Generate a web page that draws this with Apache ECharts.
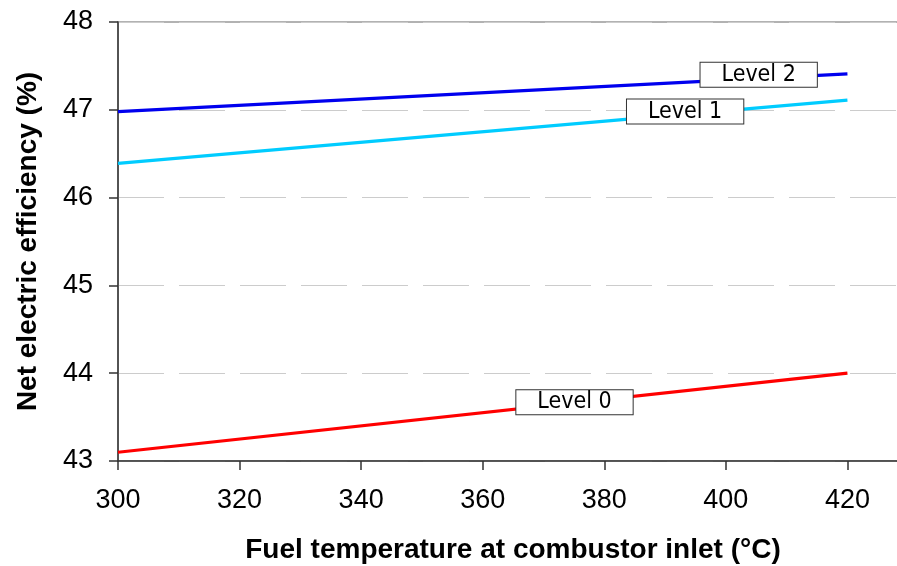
<!DOCTYPE html>
<html>
<head>
<meta charset="utf-8">
<script src="https://cdn.jsdelivr.net/npm/echarts@6/dist/echarts.min.js"></script>
<style>
  html, body { margin: 0; padding: 0; background: #fff; }
  #chart { width: 897px; height: 566px; }
</style>
</head>
<body>
<div id="chart"></div>
<script>
// fuel temperature (°C) at the two ends of each line
var temps = [300, 420];
var level0 = [43.10, 44.00];
var level1 = [46.39, 47.11];
var level2 = [46.98, 47.41];

var seriesNames = ['Level 0', 'Level 1', 'Level 2'];
var seriesColors = ['#ff0000', '#00ccff', '#0000ee'];

// where the boxed labels sit (data coords)
var labelX = [375.1, 393.3, 405.4];
var labelY = [43.67, 46.98, 47.40];

var chart = echarts.init(document.getElementById('chart'), null, { renderer: 'canvas' });

function pairs(ys) {
	var out = [];
	for (var i = 0; i < temps.length; i++) {
		out.push([temps[i], ys[i]]);
	}
	return out;
}

var allY = [level0, level1, level2];
var series = [];
for (var i = 0; i < seriesNames.length; i++) {
	series.push({
		name: seriesNames[i],
		type: 'line',
		data: pairs(allY[i]),
		symbol: 'none',
		lineStyle: { color: seriesColors[i], width: 3.2 },
		itemStyle: { color: seriesColors[i] },
		markPoint: {
			symbol: 'rect',
			symbolSize: 0,
			label: {
				show: true,
				position: 'inside',
				formatter: seriesNames[i],
				color: '#000',
				fontFamily: '"DejaVu Sans Condensed", "DejaVu Sans", sans-serif',
				fontSize: 23,
				lineHeight: 22,
				backgroundColor: '#fff',
				borderColor: '#333',
				borderWidth: 1,
				padding: [1, 21, 1, 21]
			},
			data: [{ coord: [labelX[i], labelY[i]] }]
		}
	});
}

var option = {
	animation: false,
	backgroundColor: '#fff',
	grid: {
		left: 118,
		top: 22,
		bottom: 105,
		right: -72,
		outerBoundsMode: 'none',
		containLabel: false,
		show: true,
		backgroundColor: '#fff',
		borderColor: '#999',
		borderWidth: 1.5
	},
	xAxis: {
		type: 'value',
		min: 300,
		max: 440,
		interval: 20,
		name: 'Fuel temperature at combustor inlet (°C)',
		nameLocation: 'middle',
		nameGap: 75,
		nameTextStyle: {
			fontFamily: '"Liberation Sans", Arial, sans-serif',
			fontWeight: 'bold',
			fontSize: 28,
			color: '#000',
			padding: [0, 61, 0, 0]
		},
		axisLine: { lineStyle: { color: '#333', width: 1.5 } },
		axisTick: { show: true, length: 9, lineStyle: { color: '#333', width: 1.5 } },
		axisLabel: {
			margin: 26,
			fontFamily: '"Liberation Sans", Arial, sans-serif',
			fontSize: 27,
			color: '#000',
			formatter: function (v) { return v > 420 ? '' : String(v); }
		},
		splitLine: { show: false }
	},
	yAxis: {
		type: 'value',
		min: 43,
		max: 48,
		interval: 1,
		name: 'Net electric efficiency (%)',
		nameLocation: 'middle',
		nameGap: 76,
		nameTextStyle: {
			fontFamily: '"Liberation Sans", Arial, sans-serif',
			fontWeight: 'bold',
			fontSize: 28,
			color: '#000'
		},
		axisLine: { show: true, lineStyle: { color: '#333', width: 1.5 } },
		axisTick: { show: true, length: 9, lineStyle: { color: '#333', width: 1.5 } },
		axisLabel: {
			margin: 25,
			fontFamily: '"Liberation Sans", Arial, sans-serif',
			fontSize: 27,
			color: '#000'
		},
		splitLine: {
			show: true,
			lineStyle: { color: '#cccccc', width: 1, type: [46, 15] }
		}
	},
	series: series
};

chart.setOption(option);
</script>
</body>
</html>
